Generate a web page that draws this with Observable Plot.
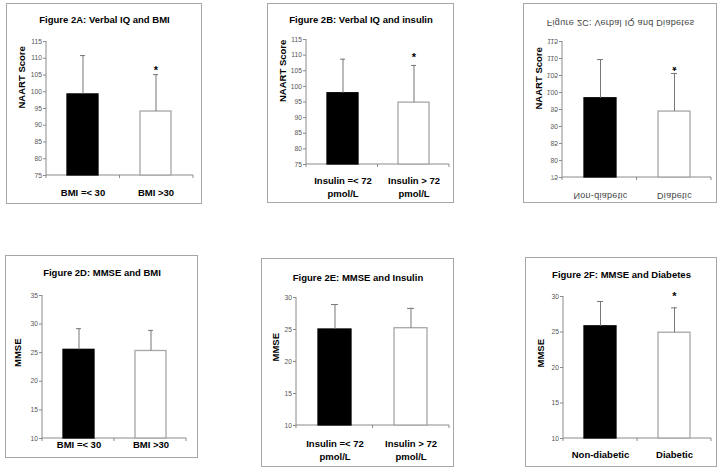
<!DOCTYPE html>
<html><head><meta charset="utf-8">
<script src="https://cdn.jsdelivr.net/npm/d3@7"></script>
<script src="https://cdn.jsdelivr.net/npm/@observablehq/plot@0.6"></script>
<style>
body{margin:0;background:#fff;width:727px;height:473px;position:relative;overflow:hidden;font-family:Arial,"Liberation Sans",sans-serif}
.panel{position:absolute;outline:1px solid #a6a6a6;outline-offset:-1px;background:#fff}
.panel svg{display:block}
</style></head><body>
<script>
// ---- data ----
const panelTitles = [
  "Figure 2A: Verbal IQ and BMI",
  "Figure 2B: Verbal IQ and insulin",
  "Figure 2C: Verbal IQ and Diabetes",
  "Figure 2D: MMSE and BMI",
  "Figure 2E: MMSE and Insulin",
  "Figure 2F: MMSE and Diabetes"
];
const yLabels = ["NAART Score", "NAART Score", "NAART Score", "MMSE", "MMSE", "MMSE"];
const bmiGroups = ["BMI =< 30", "BMI >30"];
const insulinGroups = ["Insulin =< 72\npmol/L", "Insulin > 72\npmol/L"];
const diabetesGroups = ["Non-diabetic", "Diabetic"];

const naartTicks = [75, 80, 85, 90, 95, 100, 105, 110, 115];
const mmseTicksBmi = [10, 15, 20, 25, 30, 35];
const mmseTicks = [10, 15, 20, 25, 30];

const naartBmiMean = [99.2, 94.1];
const naartBmiUpper = [110.8, 105.1];
const naartInsulinMean = [97.8, 94.8];
const naartInsulinUpper = [108.7, 106.7];
const naartDiabetesMean = [98.3, 94.4];
const naartDiabetesUpper = [109.7, 105.6];
const mmseBmiMean = [25.5, 25.3];
const mmseBmiUpper = [29.2, 28.9];
const mmseInsulinMean = [25.0, 25.2];
const mmseInsulinUpper = [28.9, 28.3];
const mmseDiabetesMean = [25.8, 24.9];
const mmseDiabetesUpper = [29.3, 28.4];

const starsA = [false, true];
const starsB = [false, true];
const starsC = [false, true];
const starsD = [false, false];
const starsE = [false, false];
const starsF = [false, true];

// ---- layout ----
const FONT = "Arial, 'Liberation Sans', sans-serif";
const panels = [
  {title: panelTitles[0], ylabel: yLabels[0], groups: bmiGroups, means: naartBmiMean, uppers: naartBmiUpper, stars: starsA, ticks: naartTicks,
   left: 6, top: 3, width: 196, height: 201, mt: 38, mb: 29, ml: 40, mr: 9, titleOff: 13, ylabOff: 15, catOff: 15, starOff: 7},
  {title: panelTitles[1], ylabel: yLabels[1], groups: insulinGroups, means: naartInsulinMean, uppers: naartInsulinUpper, stars: starsB, ticks: naartTicks,
   left: 267, top: 3, width: 187, height: 200, mt: 36, mb: 39, ml: 39, mr: 5, titleOff: 13, ylabOff: 15, catOff: 14, starOff: 11},
  {title: panelTitles[2], ylabel: yLabels[2], groups: diabetesGroups, means: naartDiabetesMean, uppers: naartDiabetesUpper, stars: starsC, ticks: naartTicks,
   left: 523, top: 3, width: 194, height: 200, mt: 38, mb: 26, ml: 39, mr: 6, titleOff: 16, ylabOff: 15, catOff: 16, starOff: 9, flipped: true},
  {title: panelTitles[3], ylabel: yLabels[3], groups: bmiGroups, means: mmseBmiMean, uppers: mmseBmiUpper, stars: starsD, ticks: mmseTicksBmi,
   left: 5, top: 255, width: 193, height: 203, mt: 40, mb: 20, ml: 37, mr: 12, titleOff: 14, ylabOff: 12, catOff: 4, starOff: 8},
  {title: panelTitles[4], ylabel: yLabels[4], groups: insulinGroups, means: mmseInsulinMean, uppers: mmseInsulinUpper, stars: starsE, ticks: mmseTicks,
   left: 261, top: 258, width: 193, height: 209, mt: 39, mb: 42, ml: 35, mr: 5, titleOff: 16, ylabOff: 14, catOff: 16, starOff: 8},
  {title: panelTitles[5], ylabel: yLabels[5], groups: diabetesGroups, means: mmseDiabetesMean, uppers: mmseDiabetesUpper, stars: starsF, ticks: mmseTicks,
   left: 525, top: 257, width: 192, height: 210, mt: 39, mb: 29, ml: 38, mr: 6, titleOff: 14, ylabOff: 15, catOff: 14, starOff: 14}
];

function axisLines(index, scales, values, dims) {
  const l = dims.marginLeft, t = dims.marginTop, r = dims.width - dims.marginRight, b = dims.height - dims.marginBottom;
  const g = d3.create("svg:g").attr("stroke", "#8a8a8a").attr("fill", "none").attr("stroke-width", 1);
  g.append("line").attr("x1", l).attr("x2", l).attr("y1", t).attr("y2", b);
  g.append("line").attr("x1", l).attr("x2", r).attr("y1", b).attr("y2", b);
  for (const x of [l, (l + r) / 2, r]) g.append("line").attr("x1", x).attr("x2", x).attr("y1", b).attr("y2", b + 3);
  return g.node();
}

for (const p of panels) {
  const data = p.groups.map((g, i) => ({group: g, mean: p.means[i], upper: p.uppers[i], star: p.stars[i], idx: i}));
  const ymin = p.ticks[0], ymax = p.ticks[p.ticks.length - 1];
  const innerW = p.width - p.ml - p.mr;
  const titleDx = p.width / 2 - (p.ml + innerW / 2);
  const fl = !!p.flipped;
  const chart = Plot.plot({
    width: p.width, height: p.height,
    marginTop: p.mt, marginBottom: p.mb, marginLeft: p.ml, marginRight: p.mr,
    style: {fontFamily: FONT, background: "transparent", overflow: "visible", fontSize: "9.5px"},
    x: {type: "band", domain: p.groups, paddingInner: 0.57, paddingOuter: 0.285, axis: null},
    y: {domain: [ymin, ymax], axis: null},
    marks: [
      Plot.axisY({ticks: p.ticks, tickSize: 3, tickPadding: 1.5, fontSize: 6.7, fill: "#555", stroke: "#8a8a8a"}),
      axisLines,
      Plot.barY(data, {x: "group", y1: ymin, y2: "mean",
        fill: d => d.idx ? "white" : "black",
        stroke: d => d.idx ? "#a6a6a6" : "black", strokeWidth: 1.3}),
      Plot.ruleX(data, {x: "group", y1: "mean", y2: "upper", stroke: "#777"}),
      Plot.tickY(data, {x: "group", y: "upper", stroke: "#777", insetLeft: 13, insetRight: 13}),
      Plot.text(data.filter(d => d.star), {x: "group", y: "upper", text: () => "*", dy: -(p.starOff - 3), fontSize: 11, fontWeight: "bold", fill: "black"}),
      Plot.text(data, {x: "group", text: "group", frameAnchor: "bottom", lineAnchor: "top", dy: p.catOff - 3.3,
        fontSize: fl ? 9 : 9.5, fontWeight: fl ? "normal" : "bold", lineHeight: 1.37, fill: fl ? "#444" : "black"}),
      Plot.text([p.title], {text: d => d, frameAnchor: "top", dx: titleDx, dy: p.titleOff - p.mt,
        fontSize: fl ? 9 : 9.5, fontWeight: fl ? "normal" : "bold", fill: fl ? "#444" : "black"}),
      Plot.text([p.ylabel], {text: d => d, frameAnchor: "left", rotate: -90, dx: p.ylabOff - p.ml, fontSize: 9.5, fontWeight: "bold", fill: "black"})
    ]
  });
  const div = document.createElement("div");
  div.className = "panel";
  Object.assign(div.style, {left: p.left + "px", top: p.top + "px", width: p.width + "px", height: p.height + "px"});
  div.appendChild(chart);
  document.body.appendChild(div);
  if (fl) {
    chart.querySelectorAll("text").forEach(t => {
      if (t.textContent === p.ylabel) return;
      if (p.groups.includes(t.textContent) || t.textContent === p.title) t.setAttribute("letter-spacing", "0.3");
      const b = t.getBBox();
      const cy = b.y + b.height / 2;
      const tr = t.getAttribute("transform") || "";
      t.setAttribute("transform", `${tr} translate(0,${2 * cy}) scale(1,-1)`);
    });
  }
}
</script>
</body></html>
